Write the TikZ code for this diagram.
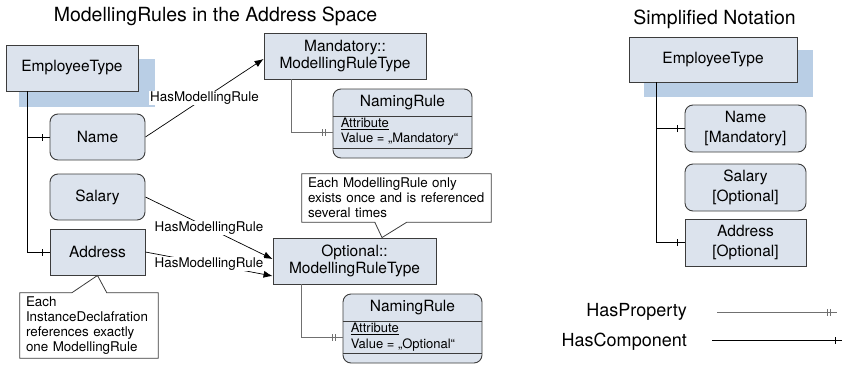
\documentclass[tikz,border=0pt]{standalone}
\usepackage{fontspec}
\setmainfont{TeX Gyre Heros}
\usetikzlibrary{arrows.meta}
\usetikzlibrary{decorations.markings}
\definecolor{boxfill}{HTML}{DCE3ED}
\definecolor{shadowblue}{HTML}{B9CEE5}
\definecolor{propgray}{HTML}{707070}
\definecolor{edgegray}{HTML}{3C3C3C}

\begin{document}
\begin{tikzpicture}[x=1pt,y=-1pt,
  txt/.style={font=\fontsize{15.5}{17}\selectfont},
  small/.style={font=\fontsize{13.4}{15}\selectfont},
  typebox/.style={txt,draw=edgegray,fill=boxfill,line width=0.9pt,align=center,inner sep=2pt},
  varbox/.style={typebox,rounded corners=8pt},
  attr/.style={font=\fontsize{13}{15}\selectfont,inner sep=0pt,anchor=base west},
  note/.style={small,align=left,inner xsep=6pt,inner ysep=3pt},
  lbl/.style={small,fill=white,inner sep=1pt},
  heading/.style={font=\fontsize{19.5}{22}\selectfont,anchor=base},
  legend/.style={font=\fontsize{18}{20}\selectfont,inner sep=0pt,anchor=east},
  hasrule/.style={line width=0.7pt,-{Latex[length=9pt,width=7pt]}},
  hascomp/.style={line width=0.8pt,postaction={decorate},
    decoration={markings,mark=at position -7pt with {\draw[line width=0.8pt] (0,-3.5pt) -- (0,3.5pt);}}},
  hasprop/.style={draw=propgray,line width=0.8pt,postaction={decorate},
    decoration={markings,
      mark=at position -7pt with {\draw[propgray,line width=0.8pt] (0,-3.5pt) -- (0,3.5pt);},
      mark=at position -10pt with {\draw[propgray,line width=0.8pt] (0,-3.5pt) -- (0,3.5pt);}}}
]
\useasboundingbox (0,0) rectangle (842,364);

% ModellingRules in the Address Space
\node[heading] (title1) at (215.5,21) {ModellingRules in the Address Space};
\fill[shadowblue] (19,59) rectangle (155,107);
\node[typebox,minimum width=132pt,minimum height=46pt] (emp) at (72,68) {EmployeeType};
\node[varbox,minimum width=95pt,minimum height=46pt] (name) at (97.5,137) {Name};
\node[varbox,minimum width=95pt,minimum height=46pt] (salary) at (97.5,197) {Salary};
\node[typebox,minimum width=95pt,minimum height=46pt] (address) at (97.5,252) {Address};
\node[typebox,minimum width=162pt,minimum height=46pt] (mand) at (345,56) {Mandatory::\\ModellingRuleType};
\node[typebox,minimum width=163pt,minimum height=46pt] (opt) at (354.5,261) {Optional::\\ModellingRuleType};

\node[varbox,minimum width=139pt,minimum height=69pt] (nr1) at (402.5,123.5) {};
\node[txt] (nr1title) at ([yshift=-14pt]nr1.north) {NamingRule};
\draw[edgegray,line width=0.9pt] ([yshift=-28pt]nr1.north west) -- ([yshift=-28pt]nr1.north east);
\draw[edgegray,line width=0.9pt] ([yshift=-60pt]nr1.north west) -- ([yshift=-60pt]nr1.north east);
\node[attr] (nr1attr) at ([xshift=8pt,yshift=-39pt]nr1.north west) {\underline{Attribute}};
\node[attr] (nr1val) at ([xshift=8pt,yshift=-54pt]nr1.north west) {Value = „Mandatory“};

\node[varbox,minimum width=139pt,minimum height=69pt] (nr2) at (412.5,328.5) {};
\node[txt] (nr2title) at ([yshift=-14pt]nr2.north) {NamingRule};
\draw[edgegray,line width=0.9pt] ([yshift=-28pt]nr2.north west) -- ([yshift=-28pt]nr2.north east);
\draw[edgegray,line width=0.9pt] ([yshift=-60pt]nr2.north west) -- ([yshift=-60pt]nr2.north east);
\node[attr] (nr2attr) at ([xshift=8pt,yshift=-39pt]nr2.north west) {\underline{Attribute}};
\node[attr] (nr2val) at ([xshift=8pt,yshift=-55pt]nr2.north west) {Value = „Optional“};

\draw[hascomp] ([xshift=22pt]emp.south west) |- (name.west);
\draw[hascomp] ([xshift=22pt]emp.south west) |- (address.west);
\draw[hasprop] ([xshift=28pt]mand.south west) |- ([yshift=-8.5pt]nr1.west);
\draw[hasprop] ([xshift=29pt]opt.south west) |- ([yshift=-8.5pt]nr2.west);
\draw[hasrule] (name.east) -- node[lbl] (lbl1) {HasModellingRule} ([yshift=-3pt]mand.west);
\draw[hasrule] (salary.east) -- node[lbl] (lbl2) {HasModellingRule} ([yshift=2pt]opt.west);
\draw[hasrule] (address.east) -- node[lbl] (lbl3) {HasModellingRule} ([yshift=-15pt]opt.west);

\node[note,text width=126pt,minimum height=65pt] (note1) at (89,325.5) {Each\\InstanceDeclafration\\references exactly\\one ModellingRule};
\draw[edgegray,line width=0.8pt] ([xshift=52pt]note1.north west) -- (address.south) -- ([xshift=87pt]note1.north west)
  -- (note1.north east) -- (note1.south east) -- (note1.south west) -- (note1.north west) -- cycle;
\node[note,text width=177pt,minimum height=48pt] (note2) at (396.5,198) {Each ModellingRule only\\exists once and is referenced\\several times};
\draw[edgegray,line width=0.8pt] (note2.north west) -- (note2.north east) -- (note2.south east) -- ([xshift=105pt]note2.south west)
  -- ([xshift=27.5pt]opt.north) -- ([xshift=73pt]note2.south west) -- (note2.south west) -- cycle;

% Simplified Notation
\node[heading] (title2) at (714.5,24) {Simplified Notation};
\fill[shadowblue] (644,50) rectangle (813,97);
\node[typebox,minimum width=168pt,minimum height=45pt] (emp2) at (713,59.5) {EmployeeType};
\node[varbox,minimum width=121pt,minimum height=47pt,font=\fontsize{15.5}{20}\selectfont] (name2) at (745.5,128.5) {Name\\{[Mandatory]}};
\node[varbox,minimum width=121pt,minimum height=47pt,font=\fontsize{15.5}{20}\selectfont] (salary2) at (745.5,187.5) {Salary\\{[Optional]}};
\node[typebox,minimum width=121pt,minimum height=47pt,font=\fontsize{15.5}{20}\selectfont] (address2) at (745.5,242.5) {Address\\{[Optional]}};
\draw[hascomp] ([xshift=28pt]emp2.south west) |- (name2.west);
\draw[hascomp] ([xshift=28pt]emp2.south west) |- (address2.west);

\node[legend] (hptext) at (687,312) {HasProperty};
\coordinate (hpA) at (717,312);
\coordinate (hpB) at (837,312);
\draw[hasprop] (hpA) -- (hpB);
\node[legend] (hctext) at (687,342) {HasComponent};
\coordinate (hcA) at (712,340);
\coordinate (hcB) at (842,340);
\draw[hascomp] (hcA) -- (hcB);

\end{tikzpicture}
\end{document}
